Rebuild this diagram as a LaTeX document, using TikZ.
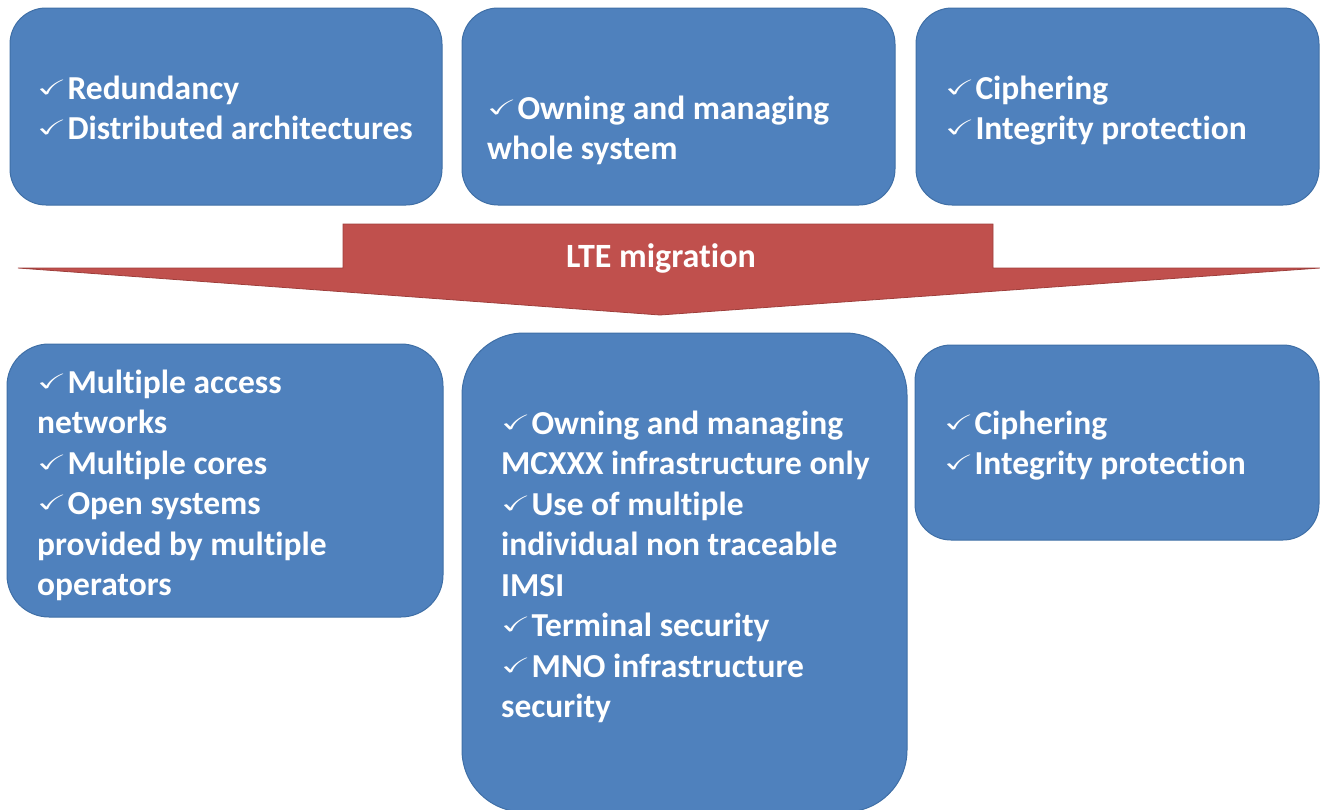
\documentclass[tikz,border=0pt]{standalone}
\usepackage{amssymb}
\usepackage{fontspec}
\setmainfont{Carlito}[Ligatures=NoCommon]
\definecolor{boxblue}{HTML}{4F81BD}
\definecolor{boxedge}{HTML}{3F6FA6}
\definecolor{arrred}{HTML}{C0504D}
\definecolor{arredge}{HTML}{9E3E3B}
\newcommand\chk{\raisebox{5pt}{\scalebox{1.05}[0.62]{$\checkmark$}}\kern1pt}
\begin{document}
\begin{tikzpicture}[x=1pt,y=-1pt,
  bbox/.style={draw=boxedge,line width=1pt,fill=boxblue,rounded corners=36pt},
  txt/.style={text=white,font=\fontsize{33.5}{40.5}\bfseries\selectfont,align=left,inner sep=0pt,anchor=north west}]
\useasboundingbox (0,0) rectangle (1320,809);
\clip (0,0) rectangle (1320,809);
% top boxes
\draw[bbox] (10,8) rectangle (442,205);
\draw[bbox] (462,8) rectangle (895,205);
\draw[bbox] (916,8) rectangle (1319,205);
% arrow
\filldraw[fill=arrred,draw=arredge,line width=0.8pt]
  (18,268) -- (343,268) -- (343,224) -- (993,224) -- (993,268) -- (1320,268) -- (660,315) -- cycle;
\node[text=white,font=\fontsize{34}{40}\bfseries\selectfont,inner sep=0pt] (lte) at (661,258) {LTE migration};
% bottom boxes
\draw[bbox,rounded corners=42pt] (7,344) rectangle (443,617);
\draw[bbox,rounded corners=62pt] (462,333) rectangle (907,812);
\draw[bbox] (915,345) rectangle (1319,540);
% texts
\node[txt] (t1) at (37,70.5) {\strut\chk Redundancy\\\strut\chk Distributed architectures};
\node[txt] (t2) at (487,90.5) {\strut\chk Owning and managing\\\strut whole system};
\node[txt] (t3) at (945,70.5) {\strut\chk Ciphering\\\strut\chk Integrity protection};
\node[txt] (t4) at (37,364.5) {\strut\chk Multiple access\\\strut networks\\\strut\chk Multiple cores\\\strut\chk Open systems\\\strut provided by multiple\\\strut operators};
\node[txt] (t5) at (501,405.5) {\strut\chk Owning and managing\\\strut MCXXX infrastructure only\\\strut\chk Use of multiple\\\strut individual non traceable\\\strut IMSI\\\strut\chk Terminal security\\\strut\chk MNO infrastructure\\\strut security};
\node[txt] (t6) at (944,405.5) {\strut\chk Ciphering\\\strut\chk Integrity protection};
\end{tikzpicture}
\end{document}
